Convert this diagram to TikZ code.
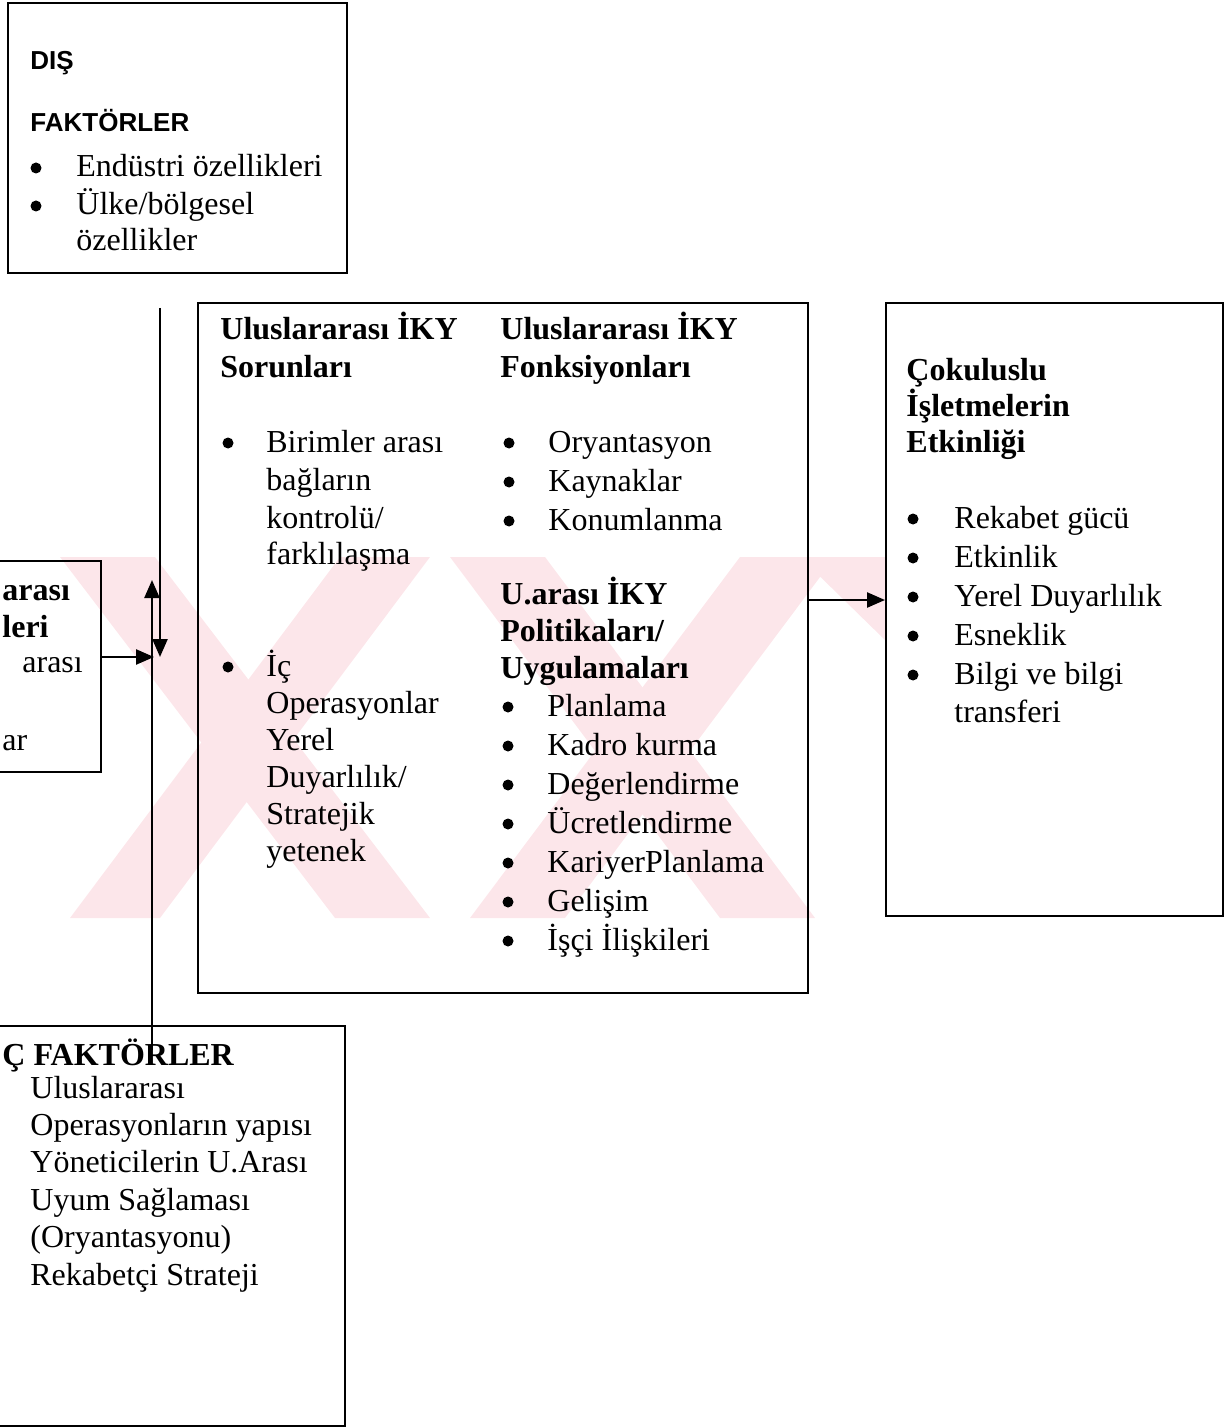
\documentclass[tikz,border=0pt]{standalone}
\usepackage{fontspec}
\setmainfont{Liberation Serif}
\newfontfamily\sansfam{Liberation Sans}
\usetikzlibrary{arrows.meta}
\definecolor{wmpink}{RGB}{252,230,234}
\begin{document}
\begin{tikzpicture}[x=0.5pt,y=-0.5pt,
  box/.style={draw, line width=1.2pt, inner sep=0pt, anchor=north west},
  txt/.style={anchor=base west, inner sep=0pt, font=\fontsize{16}{19}\selectfont},
  hd/.style={anchor=base west, inner sep=0pt, font=\fontsize{16}{19}\selectfont\bfseries},
  sh/.style={anchor=base west, inner sep=0pt, font=\sansfam\fontsize{13}{16}\selectfont\bfseries},
  dot/.style={circle, fill=black, inner sep=0pt, minimum size=5.5pt},
  arr/.style={line width=1.2pt, -{Triangle[length=9pt,width=7.5pt]}}]
\useasboundingbox (0,0) rectangle (1228,1428);
% watermark
\begin{scope}
\clip (0,557) rectangle (885,918);
\fill[wmpink] (60,557) -- (155,557) -- (430,918) -- (335,918) -- cycle;
\fill[wmpink] (340,557) -- (430,557) -- (160,918) -- (70,918) -- cycle;
\fill[wmpink] (450,557) -- (545,557) -- (815,918) -- (720,918) -- cycle;
\fill[wmpink] (740,557) -- (835,557) -- (565,918) -- (470,918) -- cycle;
\fill[wmpink] (800,557) -- (885,557) -- (885,640) -- cycle;
\end{scope}
% boxes
\node[box, minimum width=169.5pt, minimum height=135pt] (dis) at (7,2) {};
\node[box, minimum width=52pt, minimum height=105.5pt] (left) at (-4,560) {};
\node[box, minimum width=305pt, minimum height=345pt] (main) at (197,302) {};
\node[box, fill=white, minimum width=168.5pt, minimum height=306.5pt] (eff) at (885,302) {};
\node[box, minimum width=174pt, minimum height=200pt] (ic) at (-4,1025) {};
% DIS FAKTORLER
\node[sh] (d1) at (30,70) {DIŞ};
\node[sh] (d2) at (30,132) {FAKTÖRLER};
\node[dot] (db1) at (36,168) {};
\node[txt] (dt1) at (76,177) {Endüstri özellikleri};
\node[dot] (db2) at (36,206) {};
\node[txt] (dt2) at (76,215) {Ülke/bölgesel};
\node[txt] (dt3) at (76,251) {özellikler};
% left (cut) box
\node[hd] (l1) at (2,600) {arası};
\node[hd] (l2) at (2,637) {leri};
\node[txt] (l3) at (22,672) {arası};
\node[txt] (l4) at (2,750) {ar};
% main box, left column
\node[hd] (m1) at (220,340) {Uluslararası İKY};
\node[hd] (m2) at (220,378) {Sorunları};
\node[dot] (mb1) at (228,443) {};
\node[txt] (mt1) at (266,452) {Birimler arası};
\node[txt] (mt2) at (266,490) {bağların};
\node[txt] (mt3) at (266,528) {kontrolü/};
\node[txt] (mt4) at (266,564) {farklılaşma};
\node[dot] (mb2) at (228,667) {};
\node[txt] (mt5) at (266,676) {İç};
\node[txt] (mt6) at (266,713) {Operasyonlar};
\node[txt] (mt7) at (266,750) {Yerel};
\node[txt] (mt8) at (266,787) {Duyarlılık/};
\node[txt] (mt9) at (266,824) {Stratejik};
\node[txt] (mt10) at (266,861) {yetenek};
% main box, right column
\node[hd] (f1) at (500,340) {Uluslararası İKY};
\node[hd] (f2) at (500,378) {Fonksiyonları};
\node[dot] (fb1) at (509,443) {};
\node[txt] (ft1) at (548,452) {Oryantasyon};
\node[dot] (fb2) at (509,482) {};
\node[txt] (ft2) at (548,491) {Kaynaklar};
\node[dot] (fb3) at (509,521) {};
\node[txt] (ft3) at (548,530) {Konumlanma};
\node[hd] (p1) at (500,604) {U.arası İKY};
\node[hd] (p2) at (500,641) {Politikaları/};
\node[hd] (p3) at (500,678) {Uygulamaları};
\node[dot] (pb1) at (508,707) {};
\node[txt] (pt1) at (547,716) {Planlama};
\node[dot] (pb2) at (508,746) {};
\node[txt] (pt2) at (547,755) {Kadro kurma};
\node[dot] (pb3) at (508,785) {};
\node[txt] (pt3) at (547,794) {Değerlendirme};
\node[dot] (pb4) at (508,824) {};
\node[txt] (pt4) at (547,833) {Ücretlendirme};
\node[dot] (pb5) at (508,863) {};
\node[txt] (pt5) at (547,872) {KariyerPlanlama};
\node[dot] (pb6) at (508,902) {};
\node[txt] (pt6) at (547,911) {Gelişim};
\node[dot] (pb7) at (508,941) {};
\node[txt] (pt7) at (547,950) {İşçi İlişkileri};
% right box
\node[hd] (e1) at (906,380) {Çokuluslu};
\node[hd] (e2) at (906,416) {İşletmelerin};
\node[hd] (e3) at (906,452) {Etkinliği};
\node[dot] (eb1) at (913,519) {};
\node[txt] (et1) at (954,528) {Rekabet gücü};
\node[dot] (eb2) at (913,558) {};
\node[txt] (et2) at (954,567) {Etkinlik};
\node[dot] (eb3) at (913,597) {};
\node[txt] (et3) at (954,606) {Yerel Duyarlılık};
\node[dot] (eb4) at (913,636) {};
\node[txt] (et4) at (954,645) {Esneklik};
\node[dot] (eb5) at (913,675) {};
\node[txt] (et5) at (954,684) {Bilgi ve bilgi};
\node[txt] (et6) at (954,722) {transferi};
% IC FAKTORLER box
\node[hd] (i0) at (2,1065) {Ç FAKTÖRLER};
\node[txt] (i1) at (30,1098) {Uluslararası};
\node[txt] (i2) at (30,1135) {Operasyonların yapısı};
\node[txt] (i3) at (30,1172) {Yöneticilerin U.Arası};
\node[txt] (i4) at (30,1210) {Uyum Sağlaması};
\node[txt] (i5) at (30,1247) {(Oryantasyonu)};
\node[txt] (i6) at (30,1285) {Rekabetçi Strateji};
% connectors
\coordinate (dtop) at (160,308);
\coordinate (dend) at (160,657);
\coordinate (ubot) at (152,1050);
\coordinate (utip) at (152,580);
\coordinate (hend) at (154,657);
\coordinate (ay) at (0,600);
\draw[arr] (dtop) -- (dend);
\draw[arr] (ubot) -- (utip);
\draw[arr] (left.east |- hend) -- (hend);
\draw[arr] (main.east |- ay) -- (eff.west |- ay);
\end{tikzpicture}
\end{document}
